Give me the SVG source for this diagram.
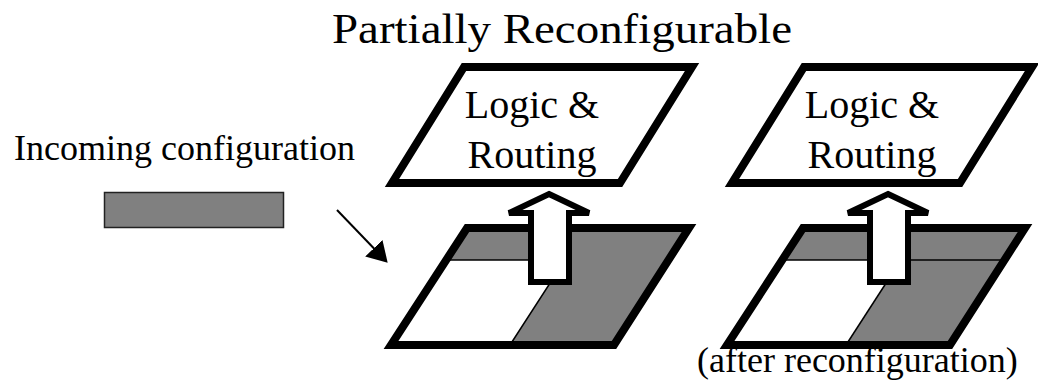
<svg xmlns="http://www.w3.org/2000/svg" width="1038" height="388" viewBox="0 0 1038 388">
  <style>
    text { font-family: 'Liberation Serif', 'DejaVu Serif', serif; fill: #000; }
    .frame { fill: #fff; stroke: #000; stroke-width: 8; stroke-linejoin: miter; }
    .gray { fill: #808080; stroke: none; }
    .white { fill: #fff; stroke: none; }
    .thin { fill: none; stroke: #000; stroke-width: 1.5; }
    .outline { fill: none; stroke: #000; stroke-width: 8; stroke-linejoin: miter; }
    .blockarrow { fill: #fff; stroke: #000; stroke-width: 6; stroke-linejoin: miter; }
  </style>
  <defs>
    <marker id="head" viewBox="0 0 20 24" refX="1" refY="12" markerWidth="20" markerHeight="24" markerUnits="userSpaceOnUse" orient="auto">
      <path d="M0,0 L20,12 L0,24 z" fill="#000"/>
    </marker>
  </defs>
  <rect width="1038" height="388" fill="#fff"/>

  <g id="title">
    <text x="332" y="43" font-size="42" textLength="460" lengthAdjust="spacingAndGlyphs">Partially Reconfigurable</text>
  </g>

  <g id="incoming">
    <text x="14" y="160" font-size="36">Incoming configuration</text>
    <rect x="104.5" y="192.5" width="179" height="35" fill="#808080" stroke="#222" stroke-width="1.5"/>
  </g>

  <g id="logic1">
    <polygon class="frame" points="464,67 692,67 620,183 392,183"/>
    <text x="532" y="118" font-size="40" text-anchor="middle">Logic &amp;</text>
    <text x="532" y="168" font-size="40" text-anchor="middle">Routing</text>
  </g>

  <g id="logic2">
    <polygon class="frame" points="804,67 1032,67 960,183 732,183"/>
    <text x="872" y="118" font-size="40" text-anchor="middle">Logic &amp;</text>
    <text x="872" y="168" font-size="40" text-anchor="middle">Routing</text>
  </g>

  <g id="fabric1">
    <polygon class="gray" points="467,228 689,228 614,345 391,345"/>
    <polygon class="white" points="446,260 565,260 510,345 391,345"/>
    <polyline class="thin" points="446,260 565,260 510,345"/>
    <polygon class="outline" points="467,228 689,228 614,345 391,345"/>
  </g>

  <g id="fabric2">
    <polygon class="gray" points="803,228 1025,228 950,345 727,345"/>
    <polygon class="white" points="782,260 901,260 846,345 727,345"/>
    <line class="thin" x1="782" y1="260" x2="1005" y2="260"/>
    <line class="thin" x1="901" y1="260" x2="846" y2="345"/>
    <polygon class="outline" points="803,228 1025,228 950,345 727,345"/>
    <text x="697" y="372" font-size="36">(after reconfiguration)</text>
  </g>

  <g id="connectors">
    <polygon class="blockarrow" points="549,194 589,213 569,213 569,282 531,282 531,213 509,213"/>
    <polygon class="blockarrow" points="888,194 928,213 908,213 908,282 870,282 870,213 848,213"/>
    <line x1="337" y1="210" x2="374.5" y2="249" stroke="#000" stroke-width="2" marker-end="url(#head)"/>
  </g>
</svg>
